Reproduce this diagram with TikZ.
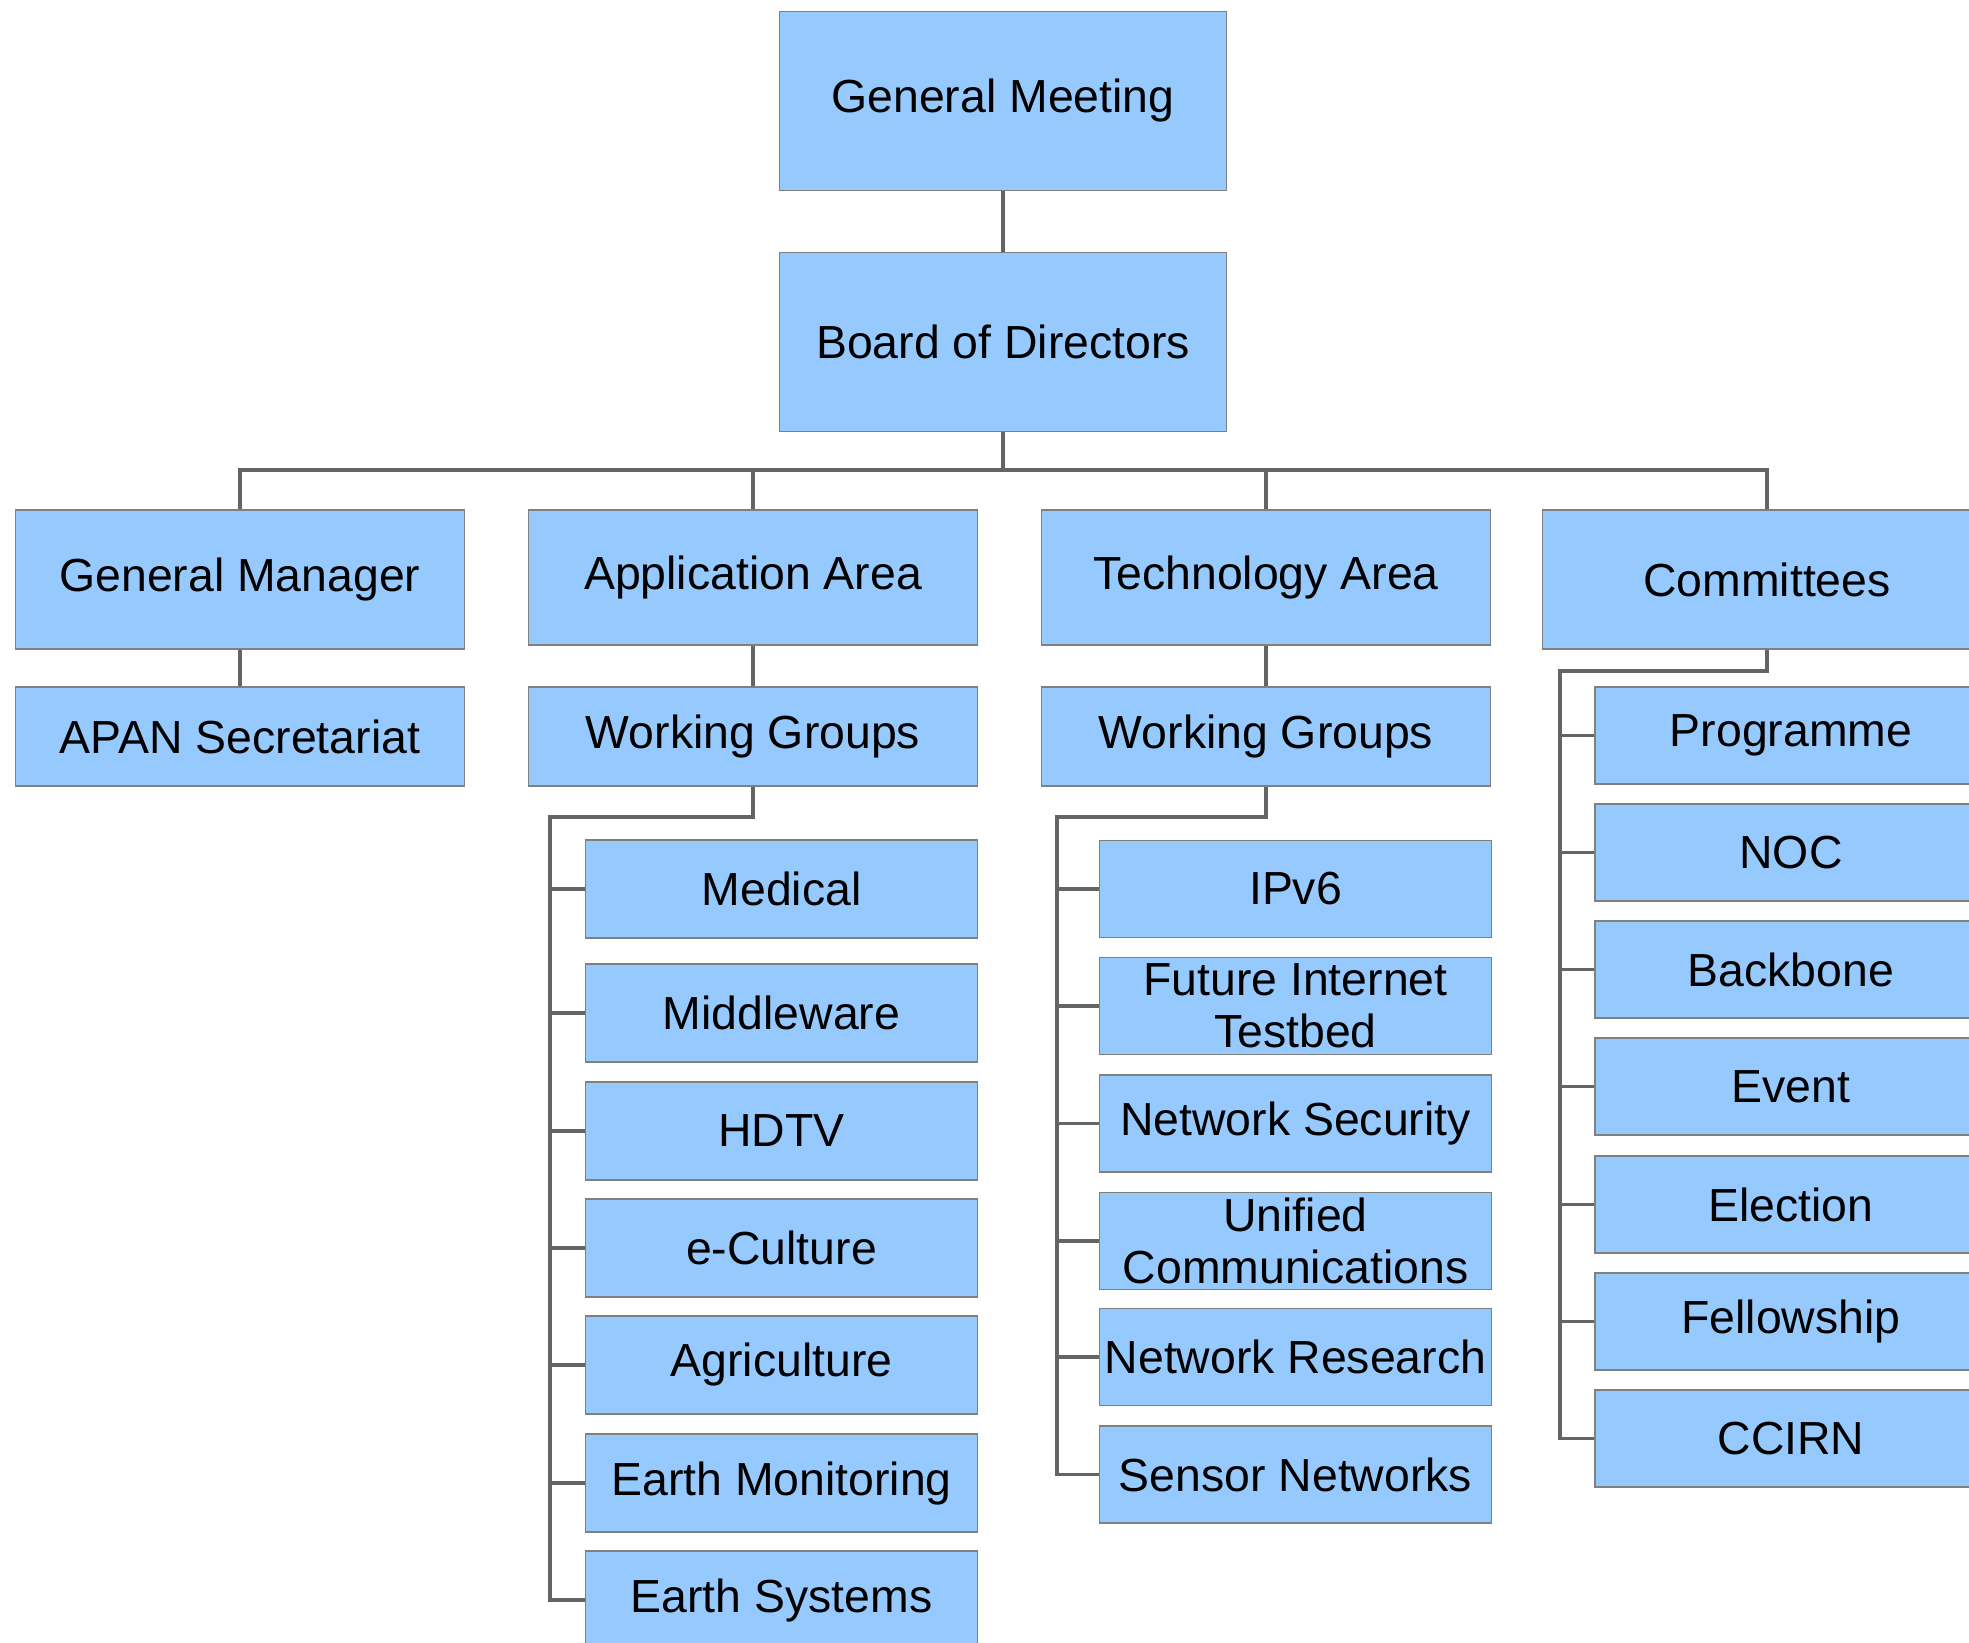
\documentclass[tikz,border=0pt]{standalone}
\usepackage{fontspec}
\setmainfont{Liberation Sans}
\definecolor{boxblue}{RGB}{150,202,255}
\definecolor{boxedge}{RGB}{128,128,128}
\definecolor{linkgray}{RGB}{100,100,100}
\tikzset{
  unit/.style={draw=boxedge, fill=boxblue, line width=0.5pt, inner sep=0pt, align=center, font=\fontsize{13.2}{14.8}\selectfont},
  head/.style={unit, minimum width=4.47cm, minimum height=1.79cm},
  area/.style={unit, minimum width=4.49cm, minimum height=1.35cm},
  wg/.style={unit, minimum width=4.49cm, minimum height=0.99cm},
  item/.style={unit, minimum width=3.92cm, minimum height=0.98cm},
  link/.style={draw=linkgray, line width=0.9pt},
}
\begin{document}
\begin{tikzpicture}
            \useasboundingbox (0, 0) rectangle (19.69, 16.42);
            \clip (0, 0) rectangle (19.69, 16.42);
            %\draw[lightgray] (0, 0) grid (19, 16);

            % top of the chart
            \node[head] (gm) at (10.03, 15.41) {General Meeting};
            \node[head] (bod) at (10.03, 13.00) {Board of Directors};
            \coordinate (bus) at (10.03, 11.72);

            \node[area, minimum height=1.39cm] (mgr) at (2.40, 10.625) {General Manager};
            \node[area] (app) at (7.53, 10.645) {Application Area};
            \node[area] (tech) at (12.66, 10.645) {Technology Area};
            \node[area, minimum height=1.39cm] (comm) at (17.67, 10.625) {Committees};

            \node[wg] (apan) at (2.40, 9.055) {APAN Secretariat};
            \node[wg] (appwg) at (7.53, 9.055) {Working Groups};
            \node[wg] (techwg) at (12.66, 9.055) {Working Groups};

            % application working groups
            \node[item] (med) at (7.815, 7.53) {Medical};
            \node[item] (mid) at (7.815, 6.29) {Middleware};
            \node[item] (hdtv) at (7.815, 5.11) {HDTV};
            \node[item] (cult) at (7.815, 3.94) {e-Culture};
            \node[item] (agri) at (7.815, 2.77) {Agriculture};
            \node[item] (emon) at (7.815, 1.59) {Earth Monitoring};
            \node[item] (esys) at (7.815, 0.42) {Earth Systems};
            \coordinate (appbr) at (5.50, 8.25);

            % technology working groups
            \node[item, minimum height=0.97cm] (ipv6) at (12.955, 7.53) {IPv6};
            \node[item, minimum height=0.97cm] (fit) at (12.955, 6.36) {Future Internet\\Testbed};
            \node[item, minimum height=0.97cm] (nsec) at (12.955, 5.185) {Network Security};
            \node[item, minimum height=0.97cm] (ucom) at (12.955, 4.01) {Unified\\Communications};
            \node[item, minimum height=0.97cm] (nres) at (12.955, 2.85) {Network Research};
            \node[item, minimum height=0.97cm] (snet) at (12.955, 1.675) {Sensor Networks};
            \coordinate (techbr) at (10.57, 8.25);

            % committees
            \node[item, minimum height=0.97cm] (prog) at (17.91, 9.065) {Programme};
            \node[item, minimum height=0.97cm] (noc) at (17.91, 7.895) {NOC};
            \node[item, minimum height=0.97cm] (bone) at (17.91, 6.725) {Backbone};
            \node[item, minimum height=0.97cm] (event) at (17.91, 5.555) {Event};
            \node[item, minimum height=0.97cm] (elec) at (17.91, 4.375) {Election};
            \node[item, minimum height=0.97cm] (fell) at (17.91, 3.205) {Fellowship};
            \node[item, minimum height=0.97cm] (ccirn) at (17.91, 2.035) {CCIRN};
            \coordinate (commbr) at (15.60, 9.71);

            \draw[link] (gm) -- (bod);
            \draw[link] (bod) -- (bus);
            \draw[link] (bus) -| (mgr);
            \draw[link] (bus) -| (app);
            \draw[link] (bus) -| (tech);
            \draw[link] (bus) -| (comm);
            \draw[link] (mgr) -- (apan);
            \draw[link] (app) -- (appwg);
            \draw[link] (tech) -- (techwg);

            \draw[link] (appwg) |- (appbr) |- (esys);
            \draw[link] (appbr |- med) -- (med);
            \draw[link] (appbr |- mid) -- (mid);
            \draw[link] (appbr |- hdtv) -- (hdtv);
            \draw[link] (appbr |- cult) -- (cult);
            \draw[link] (appbr |- agri) -- (agri);
            \draw[link] (appbr |- emon) -- (emon);

            \draw[link] (techwg) |- (techbr) |- (snet);
            \draw[link] (techbr |- ipv6) -- (ipv6);
            \draw[link] (techbr |- fit) -- (fit);
            \draw[link] (techbr |- nsec) -- (nsec);
            \draw[link] (techbr |- ucom) -- (ucom);
            \draw[link] (techbr |- nres) -- (nres);

            \draw[link] (comm) |- (commbr) |- (ccirn);
            \draw[link] (commbr |- prog) -- (prog);
            \draw[link] (commbr |- noc) -- (noc);
            \draw[link] (commbr |- bone) -- (bone);
            \draw[link] (commbr |- event) -- (event);
            \draw[link] (commbr |- elec) -- (elec);
            \draw[link] (commbr |- fell) -- (fell);
\end{tikzpicture}
\end{document}
